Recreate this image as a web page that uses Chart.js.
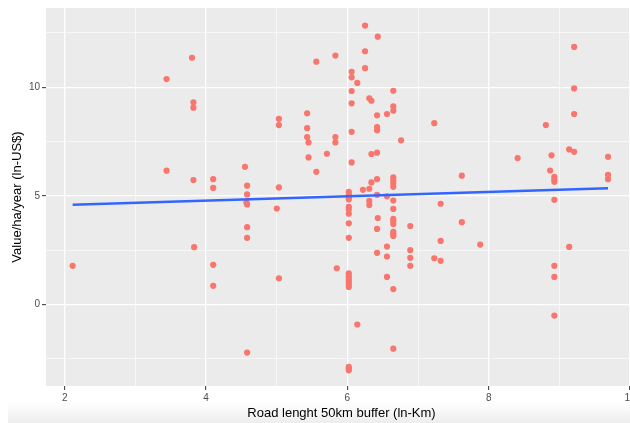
<!DOCTYPE html>
<html>
<head>
<meta charset="utf-8">
<script src="https://cdn.jsdelivr.net/npm/chart.js@4.4.1/dist/chart.umd.min.js"></script>
<style>
html, body { margin: 0; padding: 0; background: #fff; overflow: hidden; }
#wrap { position: relative; width: 630px; height: 423px; overflow: hidden; }
#shade { position: absolute; left: 8px; right: 0; top: 400px; height: 23px; background: linear-gradient(#fff, #fafafa 40%, #ededed); }
#scatter { position: absolute; left: 0; top: 0; }
</style>
</head>
<body>
<div id="wrap">
  <div id="shade"></div>
  <canvas id="scatter" width="641" height="423"></canvas>
</div>
<script>
// road length (ln-Km) and value per ha per year (ln-US$), one pair per point
const roadLength = [
  2.11, 3.44, 3.44, 3.80, 3.82, 3.82, 3.82, 3.83,
  4.10, 4.10, 4.10, 4.10, 4.55, 4.58, 4.58, 4.57, 4.58, 4.58, 4.58, 4.58,
  5.03, 5.03, 5.03, 5.00, 5.03, 5.43, 5.43, 5.43, 5.45, 5.45, 5.56, 5.56,
  5.83, 5.83, 5.83, 5.71, 5.85,
  6.02, 6.02, 6.02, 6.02, 6.02, 6.02, 6.02, 6.02, 6.02, 6.02, 6.02, 6.02, 6.02, 6.02, 6.02, 6.02, 6.02, 6.02,
  6.06, 6.06, 6.06, 6.06, 6.06, 6.06,
  6.14, 6.14, 6.22, 6.25, 6.25, 6.25,
  6.31, 6.31, 6.31, 6.31, 6.34, 6.34, 6.34,
  6.42, 6.42, 6.42, 6.42, 6.42, 6.42, 6.42, 6.42, 6.43, 6.43,
  6.56, 6.56, 6.56, 6.56, 6.56,
  6.65, 6.65, 6.65, 6.65, 6.65, 6.65, 6.65, 6.65, 6.65, 6.65, 6.65, 6.65, 6.65, 6.65, 6.65, 6.65, 6.65,
  6.76, 6.89, 6.89, 6.89, 6.89,
  7.23, 7.23, 7.32, 7.32, 7.32, 7.62, 7.62, 7.88,
  8.41, 8.81, 8.87, 8.89,
  8.93, 8.93, 8.93, 8.93, 8.93, 8.93, 8.93,
  9.14, 9.14, 9.21, 9.21, 9.21, 9.21,
  9.69, 9.69, 9.69
];
const valuePerHa = [
  1.78, 10.38, 6.16, 11.36, 9.31, 9.06, 5.73, 2.64,
  5.77, 5.37, 1.83, 0.86, 6.34, 5.47, 5.07, 4.70, 4.61, 3.56, 3.07, -2.21,
  8.55, 8.26, 5.39, 4.42, 1.21, 8.80, 8.12, 7.71, 7.46, 6.77, 6.11, 11.18,
  11.46, 7.71, 7.46, 6.94, 1.67,
  5.19, 5.07, 4.94, 4.84, 4.50, 4.38, 4.18, 3.74, 3.07, 1.43, 1.30, 1.18, 1.06, 0.94, 0.81, -2.87, -2.95, -3.03,
  10.71, 10.46, 9.83, 9.26, 7.95, 6.54,
  10.20, -0.92, 5.28, 12.84, 11.66, 10.88,
  9.49, 5.33, 4.77, 4.58, 9.38, 6.93, 5.62,
  8.71, 8.17, 8.02, 6.99, 5.77, 5.05, 3.48, 2.38, 12.33, 3.98,
  8.77, 4.98, 2.67, 2.21, 1.27,
  9.84, 9.12, 8.92, 5.85, 5.71, 5.58, 5.42, 4.79, 4.40, 3.94, 3.84, 3.71, 3.35, 3.25, 3.16, 0.71, -2.03,
  7.56, 3.61, 2.50, 2.15, 1.78,
  8.35, 2.13, 4.64, 2.93, 2.01, 5.93, 3.79, 2.76,
  6.74, 8.26, 6.17, 6.87,
  5.88, 5.77, 5.65, 4.82, 1.78, 1.27, -0.51,
  7.14, 2.65, 11.86, 9.95, 8.77, 7.03,
  6.80, 5.97, 5.77
];

// linear fit ends (lm line)
const fitX = [2.11, 9.69];
const fitY = [4.59, 5.35];

// major tick labels; minor gridlines sit halfway between
const xTicks = [2, 4, 6, 8, 10];
const yTicks = [0, 5, 10];
const xMinor = [1, 3, 5, 7, 9];
const yMinor = [-2.5, 2.5, 7.5, 12.5];

const points = roadLength.map((x, i) => ({ x: x, y: valuePerHa[i] }));
const fitLine = fitX.map((x, i) => ({ x: x, y: fitY[i] }));

// grey ggplot panel behind the grid
const panelBg = {
  id: 'panelBg',
  beforeDraw(chart) {
    const a = chart.chartArea;
    const c = chart.ctx;
    c.save();
    c.fillStyle = '#EBEBEB';
    c.fillRect(a.left, a.top, a.right - a.left, a.bottom - a.top);
    c.restore();
  }
};

function gridFor(majors) {
  return {
    color: '#FFFFFF',
    lineWidth: ctx => majors.includes(ctx.tick.value) ? 1.3 : 0.6,
    tickColor: ctx => majors.includes(ctx.tick.value) ? '#333333' : 'rgba(0,0,0,0)',
    tickLength: 4,
    tickWidth: 1
  };
}

function setTicks(majors, minors) {
  return scale => {
    const all = majors.concat(minors).filter(v => v >= scale.min && v <= scale.max);
    all.sort((a, b) => a - b);
    scale.ticks = all.map(v => ({ value: v }));
  };
}

new Chart(document.getElementById('scatter'), {
  type: 'scatter',
  data: {
    datasets: [
      {
        type: 'line',
        data: fitLine,
        borderColor: '#3366FF',
        borderWidth: 2.6,
        pointRadius: 0,
        fill: false,
        order: 0
      },
      {
        data: points,
        backgroundColor: '#F8766D',
        borderWidth: 0,
        pointRadius: 3.1,
        order: 1
      }
    ]
  },
  plugins: [panelBg],
  options: {
    responsive: false,
    animation: false,
    layout: { padding: { top: 8, left: 0, right: 0, bottom: 0 } },
    plugins: {
      legend: { display: false },
      tooltip: { enabled: false }
    },
    scales: {
      x: {
        type: 'linear',
        min: 1.733,
        max: 10.1,
        afterBuildTicks: setTicks(xTicks, xMinor),
        afterFit: s => { s.height = 37; s.paddingLeft = 0; s.paddingRight = 0; },
        border: { display: false },
        grid: gridFor(xTicks),
        ticks: {
          autoSkip: false,
          maxRotation: 0,
          padding: 2,
          color: '#4D4D4D',
          font: { family: 'Liberation Sans', size: 10 },
          callback: v => xTicks.includes(v) ? String(v) : ''
        },
        title: {
          display: true,
          text: 'Road lenght 50km buffer (ln-Km)',
          color: '#000000',
          font: { family: 'Liberation Sans', size: 13 },
          padding: { top: 0, bottom: 2 }
        }
      },
      y: {
        type: 'linear',
        min: -3.75,
        max: 13.65,
        afterBuildTicks: setTicks(yTicks, yMinor),
        afterFit: s => { s.width = 46; },
        border: { display: false },
        grid: gridFor(yTicks),
        ticks: {
          autoSkip: false,
          padding: 2,
          color: '#4D4D4D',
          font: { family: 'Liberation Sans', size: 10 },
          callback: v => yTicks.includes(v) ? String(v) : ''
        },
        title: {
          display: true,
          text: 'Value/ha/year (ln-US$)',
          color: '#000000',
          font: { family: 'Liberation Sans', size: 13 },
          padding: { top: 10, bottom: 0 }
        }
      }
    }
  }
});
</script>
</body>
</html>
